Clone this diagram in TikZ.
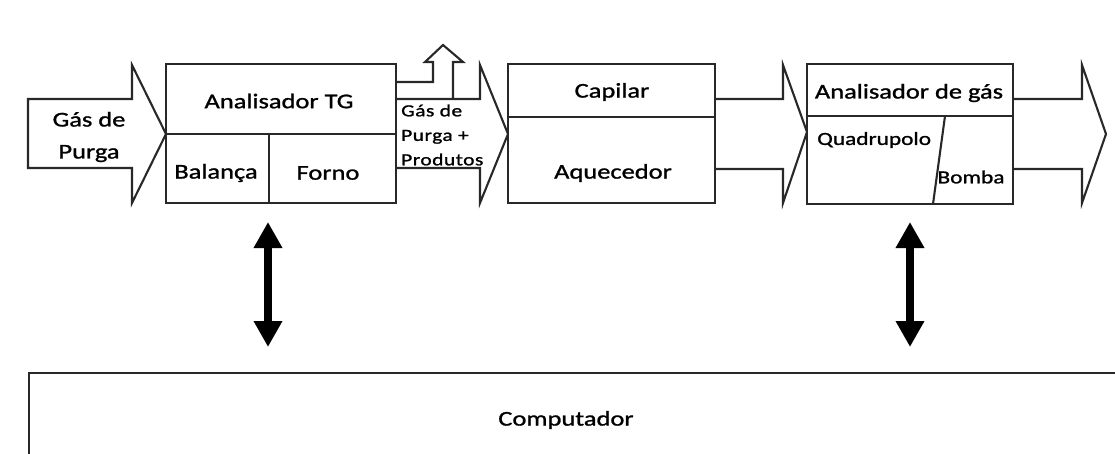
\documentclass[tikz,border=0pt]{standalone}
\usepackage{fontspec}
\setmainfont{Carlito}[FakeStretch=1.26, FakeBold=1.2]
\usetikzlibrary{arrows.meta}
\definecolor{ink}{RGB}{40,40,40}
\tikzset{
  flow/.style={draw=ink, line width=2.1pt, line join=miter, fill=white},
  part/.style={draw=ink, line width=2.1pt, fill=white, rectangle, inner sep=0pt},
  split/.style={draw=ink, line width=2.1pt},
  lbl/.style={inner sep=0pt, font=\fontsize{21}{32}\selectfont, text=black},
  sublbl/.style={inner sep=0pt, font=\fontsize{18.5}{24}\selectfont, text=black},
  small/.style={inner sep=0pt, align=left,
    font=\fontsize{17}{24.5}\selectfont\addfontfeature{LetterSpace=3}, text=black},
  link/.style={draw=black, line width=8pt,
    {Triangle[length=26pt,width=27pt]}-{Triangle[length=26pt,width=27pt]}},
}
\begin{document}
\begin{tikzpicture}[x=1pt, y=-1pt]
\useasboundingbox (0,0) rectangle (1115,454);
\clip (0,0) rectangle (1115,454);

% inlet: purge gas
\path[flow] (28,99) -- (132,99) -- (132,65) -- (166,134) -- (132,203)
  -- (132,168) -- (28,168) -- cycle;
\node[lbl, align=center] (purge) at (89,137) {Gás de\\Purga};

% outlet of the TG analyser, with the vent going up
\path[flow] (396,99) -- (480,99) -- (480,65) -- (508,134) -- (480,203)
  -- (480,168) -- (396,168);
\path[flow, fill=none] (396,82) -- (433,82) -- (433,62) -- (425,62) -- (443,45)
  -- (463,62) -- (453,62) -- (453,99);
\node[small, anchor=west] (mix) at (401,135) {Gás de\\Purga +\\Produtos};

% capillary to gas analyser
\path[flow] (715,99) -- (783,99) -- (783,65) -- (807,132) -- (783,203)
  -- (783,169) -- (715,169);

% exhaust
\path[flow] (1013,99) -- (1082,99) -- (1082,65) -- (1106,134) -- (1082,203)
  -- (1082,169) -- (1013,169);

% TG analyser
\node[part, minimum width=230pt, minimum height=139pt] (tg) at (281,133.5) {};
\draw[split] (166,134) -- (396,134);
\draw[split] (269,134) -- (269,203);
\node[lbl] (tgname) at (279,101) {Analisador TG};
\node[lbl] (bal) at (216,173) {Balança};
\node[lbl] (forno) at (328,173) {Forno};

% capillary and heater
\node[part, minimum width=207pt, minimum height=139pt] (cap) at (611.5,133.5) {};
\draw[split] (508,117) -- (715,117);
\node[lbl] (capname) at (612,92) {Capilar};
\node[lbl] (heat) at (613,173) {Aquecedor};

% gas analyser
\node[part, minimum width=206pt, minimum height=140pt] (ga) at (910,134) {};
\draw[split] (807,116) -- (1013,116);
\draw[split] (945,116) -- (933,204);
\node[lbl] (ganame) at (909,93) {Analisador de gás};
\node[sublbl, anchor=west] (quad) at (817,140) {Quadrupolo};
\node[sublbl] (pump) at (971,177) {Bomba};

% computer
\node[part, anchor=north west, minimum width=1120pt, minimum height=120pt] (pc) at (28,372) {};
\node[lbl] (pcname) at (566,420) {Computador};

% data links
\coordinate (tgdown) at (268,203);
\coordinate (gadown) at (910,204);
\draw[link, shorten <=19pt, shorten >=25pt] (tgdown) -- (tgdown |- pc.north);
\draw[link, shorten <=18pt, shorten >=25pt] (gadown) -- (gadown |- pc.north);
\end{tikzpicture}
\end{document}
